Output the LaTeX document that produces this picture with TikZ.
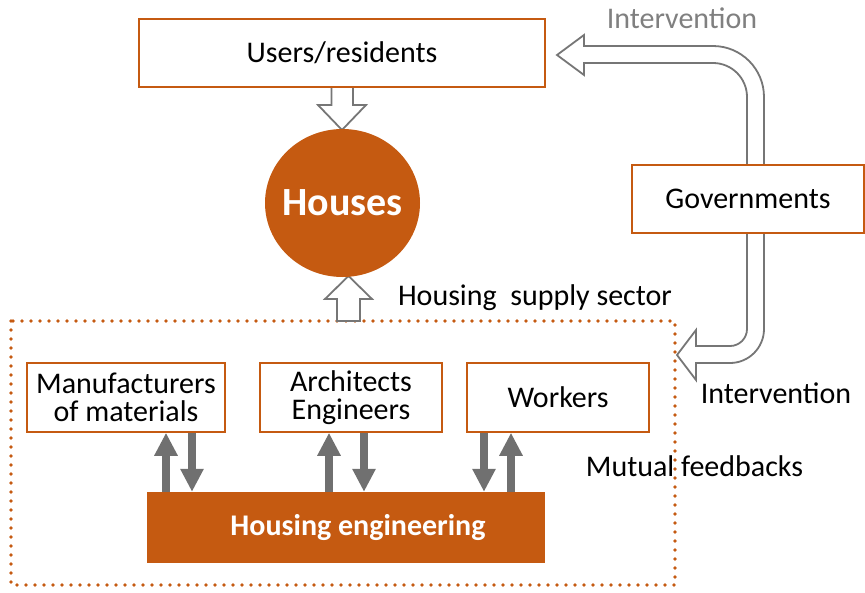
\documentclass[tikz,border=0pt]{standalone}
\usepackage{fontspec}
\setmainfont{Carlito}
\usetikzlibrary{arrows.meta,shapes.geometric}
\definecolor{hsorange}{RGB}{197,90,17}
\definecolor{fbgray}{RGB}{112,112,112}
\definecolor{outgray}{RGB}{118,118,118}
\definecolor{intgray}{RGB}{128,128,128}
\tikzset{
  orbox/.style={draw=hsorange,line width=1.5pt,fill=white,inner sep=0pt,align=center,font=\fontsize{30}{28}\selectfont},
  hollow/.style={draw=outgray,line width=1.8pt,fill=white,line join=miter},
  fb/.style={fbgray,line width=8pt,-{Triangle[width=22pt,length=23pt]}},
  lbl/.style={anchor=base,font=\fontsize{30}{36}\selectfont}
}
\begin{document}
\begin{tikzpicture}[x=1pt,y=-1pt]
\useasboundingbox (0,0) rectangle (865,592);
% supply sector frame
\draw[hsorange,line width=3.8pt,line cap=round,dash pattern=on 0pt off 9pt] (11,321) rectangle (675,585);
% block arrows
\draw[hollow] (331.5,87) -- (331.5,105) -- (318,105) -- (342,130) -- (366,105) -- (353,105) -- (353,87);
\draw[hollow] (337,321) -- (337,299) -- (325,299) -- (348.5,276) -- (372,299) -- (360,299) -- (360,321) -- cycle;
\draw[hollow] (747,165) -- (747,97) arc[start angle=0,end angle=-90,radius=34] -- (584,63) -- (584,75) -- (557,55) -- (584,35) -- (584,46) -- (713,46) arc[start angle=-90,end angle=0,radius=51] -- (764,165);
\draw[hollow] (747,233) -- (747,329) arc[start angle=0,end angle=90,radius=17] -- (696,346) -- (696,330) -- (677,355) -- (696,380) -- (696,363) -- (730,363) arc[start angle=90,end angle=0,radius=34] -- (764,233);

\node[orbox,minimum width=406pt,minimum height=68pt] (users) at (342,53) {Users/residents};
\node[ellipse,fill=hsorange,minimum width=155pt,minimum height=148pt,inner sep=0pt] (houses) at (342.5,203) {};
\node[lbl,text=white,font=\bfseries\fontsize{40}{48}\selectfont] (houseslbl) at (342.5,215) {Houses};
\node[orbox,minimum width=232pt,minimum height=68pt] (gov) at (748,199) {Governments};
\node[orbox,minimum width=198pt,minimum height=69pt] (mfr) at (126,397.5) {Manufacturers\\of materials};
\node[orbox,minimum width=182pt,minimum height=69pt] (arch) at (351,397.5) {Architects\\Engineers};
\node[orbox,minimum width=182pt,minimum height=69pt] (wrk) at (558,397.5) {Workers};
\node[fill=hsorange,minimum width=398pt,minimum height=71pt] (eng) at (346,527.5) {};
\node[lbl,text=white,font=\bfseries\fontsize{30}{36}\selectfont] (englbl) at (358,535) {Housing engineering};

% feedbacks
\foreach \x/\b in {166/mfr,329/arch,511/wrk}
  \draw[fb] (eng.north -| \x,0) -- (\b.south -| \x,0);
\foreach \x/\b in {192/mfr,364/arch,484/wrk}
  \draw[fb] (\b.south -| \x,0) -- (eng.north -| \x,0);

\node[lbl,text=intgray] (int1) at (682,28) {Intervention};
\node[lbl] (int2) at (776,403) {Intervention};
\node[lbl] (supply) at (535,305) {Housing\ \ supply sector};
\node[lbl] (mutual) at (694.5,476) {Mutual feedbacks};
\end{tikzpicture}
\end{document}
